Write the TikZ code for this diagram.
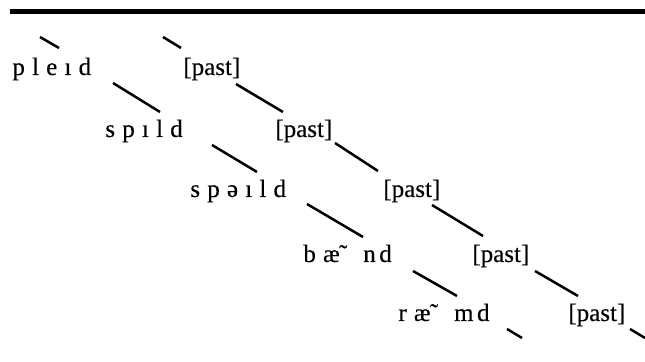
\documentclass[tikz,border=0pt]{standalone}
\usepackage{fontspec}
\setmainfont{Liberation Serif}
\newfontfamily\ipa[WordSpace=1.15,FakeBold=0.3]{Liberation Serif}
\begin{document}
\begin{tikzpicture}[x=0.5pt,y=-0.5pt,
  form/.style={anchor=base west, inner sep=0pt, font=\ipa\fontsize{12.5}{15}\selectfont},
  link/.style={line width=1.25pt}]
\useasboundingbox (0,0) rectangle (645,362);
% heavy rule across the top
\draw[line width=2.5pt] (10,11.5) -- (645,11.5);

% stems (left column) and past-tense markers (right column)
\node[form] (w1) at (12,75)  {p l e ı d};
\node[form] (p1) at (183,75) {[past]};
\node[form] (w2) at (105,137) {s p ı l d};
\node[form] (p2) at (275,137) {[past]};
\node[form] (w3) at (190,197) {s p ə ı l d};
\node[form] (p3) at (383,197) {[past]};
\node[form] (w4) at (303,262) {b æ\kern-.03em˜\hspace{.35em} n\kern.14em d};
\node[form] (p4) at (472,262) {[past]};
\node[form] (w5) at (398,321) {r æ\kern-.03em˜\hspace{.35em} m\kern.14em d};
\node[form] (p5) at (568,321) {[past]};

% incoming stubs above the first row
\draw[link] ([shift={(28,-38)}]w1.base west) -- ([shift={(47,-27)}]w1.base west);
\draw[link] ([shift={(-20,-38)}]p1.base west) -- ([shift={(-2,-27)}]p1.base west);

% diagonal links between consecutive rows
\draw[link] ([shift={(101,8)}]w1.base west) -- ([shift={(55,-25)}]w2.base west);
\draw[link] ([shift={(53,9)}]p1.base west) -- ([shift={(8,-25)}]p2.base west);
\draw[link] ([shift={(107,8)}]w2.base west) -- ([shift={(67,-25)}]w3.base west);
\draw[link] ([shift={(60,6)}]p2.base west) -- ([shift={(-5,-26)}]p3.base west);
\draw[link] ([shift={(117,7)}]w3.base west) -- ([shift={(60,-25)}]w4.base west);
\draw[link] ([shift={(49,8)}]p3.base west) -- ([shift={(11,-26)}]p4.base west);
\draw[link] ([shift={(110,9)}]w4.base west) -- ([shift={(59,-25)}]w5.base west);
\draw[link] ([shift={(63,9)}]p4.base west) -- ([shift={(10,-25)}]p5.base west);

% outgoing stubs below the last row
\draw[link] ([shift={(109,8)}]w5.base west) -- ([shift={(124,17)}]w5.base west);
\draw[link] ([shift={(62,8)}]p5.base west) -- ([shift={(77,17)}]p5.base west);
\end{tikzpicture}
\end{document}
